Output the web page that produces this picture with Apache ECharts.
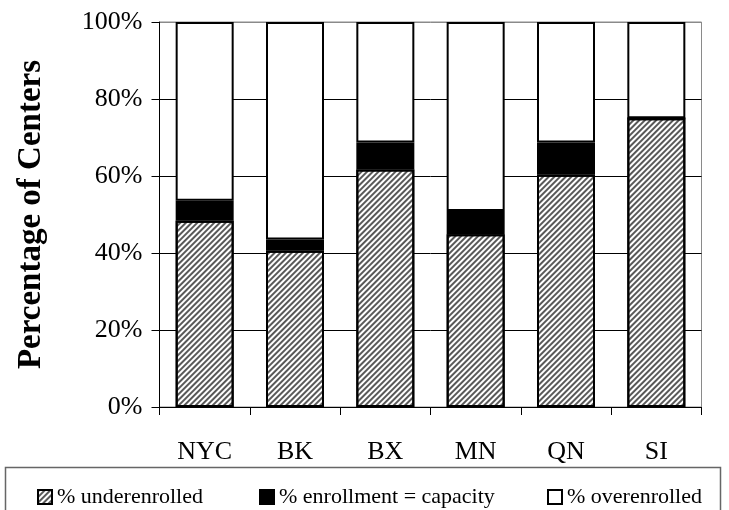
<!DOCTYPE html>
<html>
<head>
<meta charset="utf-8">
<script src="https://cdn.jsdelivr.net/npm/echarts@6/dist/echarts.min.js"></script>
<style>
html,body{margin:0;padding:0;background:#fff;}
#chart{width:729px;height:510px;}
</style>
</head>
<body>
<div id="chart"></div>
<script>
var categories = ['NYC', 'BK', 'BX', 'MN', 'QN', 'SI'];
var underenrolled = [48.4, 40.6, 61.7, 44.9, 60.3, 75.0];
var atCapacity = [5.2, 2.9, 7.0, 6.0, 8.4, 0];
var overenrolled = [46.4, 56.5, 31.3, 49.1, 31.3, 25.0];
var yTicks = [0, 20, 40, 60, 80, 100];
var seriesNames = ['% underenrolled', '% enrollment = capacity', '% overenrolled'];

var FONT = '"Liberation Serif", "Times New Roman", serif';
var chart = echarts.init(document.getElementById('chart'), null, {renderer: 'canvas'});

var hatch = {
  symbol: 'rect',
  symbolSize: 1,
  dashArrayX: [1, 0],
  dashArrayY: [1.2, 2],
  rotation: -Math.PI / 4,
  color: 'rgba(0,0,0,0.65)'
};

function legendFor(name, left) {
  return {
    data: [name],
    left: left,
    top: 486,
    itemWidth: 14,
    itemHeight: 14,
    itemGap: 0,
    padding: 0,
    icon: 'rect',
    textStyle: {fontFamily: FONT, fontSize: 22, color: '#000', padding: [0, 0, 0, 0]},
    selectedMode: false
  };
}

var option = {
  animation: false,
  backgroundColor: '#fff',
  grid: {
    left: 159.5, right: 27.5, top: 22, bottom: 103,
    show: true, borderColor: '#8a8a8a', borderWidth: 1, backgroundColor: 'transparent'
  },
  legend: [
    legendFor(seriesNames[0], 37),
    legendFor(seriesNames[1], 259),
    legendFor(seriesNames[2], 547)
  ],
  graphic: [{
    type: 'rect',
    shape: {x: 5.5, y: 467.5, width: 715, height: 60},
    style: {fill: 'none', stroke: '#666', lineWidth: 1.5},
    silent: true
  }],
  xAxis: {
    type: 'category',
    data: categories,
    axisLine: {lineStyle: {color: '#000', width: 1}},
    axisTick: {show: true, length: 8, lineStyle: {color: '#000'}},
    axisLabel: {fontFamily: FONT, fontSize: 26, color: '#000', margin: 32}
  },
  yAxis: {
    type: 'value',
    min: 0,
    max: 100,
    interval: 20,
    name: 'Percentage of Centers',
    nameLocation: 'middle',
    nameGap: 112,
    nameTextStyle: {fontFamily: FONT, fontSize: 33, fontWeight: 'bold', color: '#000'},
    axisLine: {show: true, lineStyle: {color: '#000', width: 1}},
    axisTick: {show: true, length: 8, lineStyle: {color: '#000'}},
    axisLabel: {
      fontFamily: FONT, fontSize: 26, color: '#000', margin: 17,
      formatter: function (v) { return yTicks.indexOf(v) >= 0 ? v + '%' : ''; }
    },
    splitLine: {show: true, lineStyle: {color: ['#000', '#000', '#000', '#000', '#000', '#8a8a8a'], width: 1}}
  },
  series: [
    {
      name: seriesNames[0], type: 'bar', stack: 'total', barWidth: 58,
      data: underenrolled,
      itemStyle: {color: '#fff', borderColor: '#000', borderWidth: 2, decal: hatch}
    },
    {
      name: seriesNames[1], type: 'bar', stack: 'total', barWidth: 58,
      data: atCapacity,
      itemStyle: {color: '#000', borderColor: '#000', borderWidth: 2}
    },
    {
      name: seriesNames[2], type: 'bar', stack: 'total', barWidth: 58,
      data: overenrolled,
      itemStyle: {color: '#fff', borderColor: '#000', borderWidth: 2}
    }
  ]
};
chart.setOption(option);
</script>
</body>
</html>
